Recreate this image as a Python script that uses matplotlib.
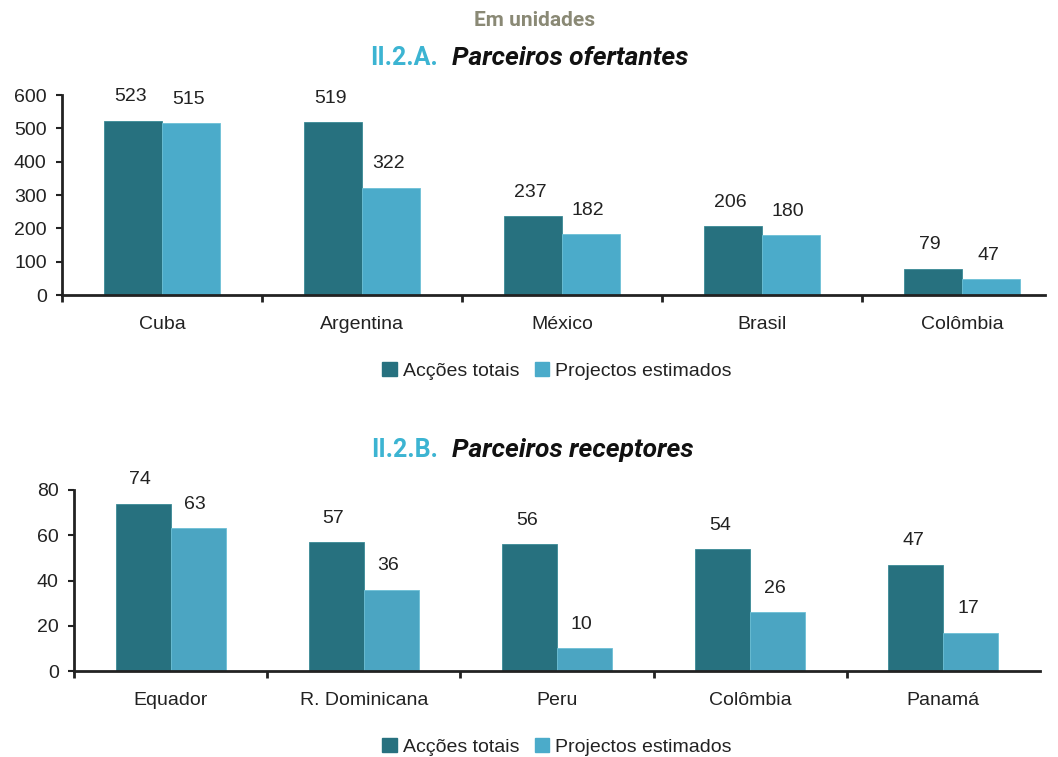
import matplotlib.pyplot as plt
import numpy as np
from matplotlib.patches import Patch

# Data
series_names = ['Acções totais', 'Projectos estimados']

ofertantes = ['Cuba', 'Argentina', 'México', 'Brasil', 'Colômbia']
ofert_acoes = [523, 519, 237, 206, 79]
ofert_projectos = [515, 322, 182, 180, 47]

receptores = ['Equador', 'R. Dominicana', 'Peru', 'Colômbia', 'Panamá']
recep_acoes = [74, 57, 56, 54, 47]
recep_projectos = [63, 36, 10, 26, 17]

dark = '#27717f'
light = '#4babca'
head_font = 'Roboto'
body_font = 'Liberation Sans'

plt.rcParams['font.family'] = body_font


def bar_panel(ax, cats, a, b, ymax, step, width, light_color, xmax):
    x = np.arange(len(cats))
    ax.bar(x - width / 2, a, width, color=dark, edgecolor='#3a8a96', linewidth=0.6)
    ax.bar(x + width / 2, b, width, color=light_color, edgecolor='#6cc0d6', linewidth=0.6)
    for xi, v in zip(x - width / 2, a):
        ax.annotate(str(v), (xi, v), xytext=(-2, 11), textcoords='offset points',
                    ha='center', va='bottom', fontsize=14, color='#222222')
    for xi, v in zip(x + width / 2, b):
        ax.annotate(str(v), (xi, v), xytext=(-2, 11), textcoords='offset points',
                    ha='center', va='bottom', fontsize=14, color='#222222')
    ax.set_xlim(-0.5, xmax)
    ax.set_ylim(0, ymax)
    ax.set_yticks(np.arange(0, ymax + 1, step))
    ax.set_xticks(x)
    ax.set_xticklabels(cats, fontsize=14, color='#222222')
    ax.set_xticks(np.arange(-0.5, len(cats) - 0.5, 1), minor=True)
    ax.tick_params(axis='x', which='major', length=0, pad=15)
    ax.tick_params(axis='x', which='minor', length=5, width=2, direction='out', color='#222222')
    ax.tick_params(axis='y', labelsize=14, length=4, width=1.5, color='#222222',
                   labelcolor='#222222', pad=7)
    for s in ['top', 'right']:
        ax.spines[s].set_visible(False)
    for s in ['left', 'bottom']:
        ax.spines[s].set_linewidth(2)
        ax.spines[s].set_color('#222222')


fig = plt.figure(figsize=(10.58, 7.57), dpi=100)

ax1 = fig.add_axes([62 / 1058, 1 - 295 / 757, 983 / 1058, 200 / 757])
bar_panel(ax1, ofertantes, ofert_acoes, ofert_projectos, 600, 100, 0.29, light, 4.415)

ax2 = fig.add_axes([74 / 1058, 1 - 671 / 757, 966 / 1058, 181 / 757])
bar_panel(ax2, receptores, recep_acoes, recep_projectos, 80, 20, 0.285, '#4ba5c2', 4.5)

# Headings
fig.text(535 / 1058, 1 - 20 / 757, 'Em unidades', ha='center', va='center',
         fontsize=15, fontweight='bold', color='#8a8975', family=head_font)
for y, code, name in [(58, 'II.2.A.', 'Parceiros ofertantes'),
                      (450, 'II.2.B.', 'Parceiros receptores')]:
    fig.text(438 / 1058, 1 - y / 757, code, ha='right', va='center', fontsize=18,
             fontweight='bold', color='#3cb4d2', family=head_font)
    fig.text(452 / 1058, 1 - y / 757, name, ha='left', va='center', fontsize=19,
             fontweight='bold', fontstyle='italic', color='#111111', family=head_font)

# Legends
handles = [Patch(color=dark), Patch(color=light)]
for y in [371, 747]:
    fig.legend(handles, series_names, loc='center', bbox_to_anchor=(557 / 1058, 1 - y / 757),
               ncol=2, frameon=False, fontsize=14, handlelength=0.75, handleheight=0.75,
               handletextpad=0.3, columnspacing=0.8, labelcolor='#222222')

fig.savefig('out.png', dpi=100)
